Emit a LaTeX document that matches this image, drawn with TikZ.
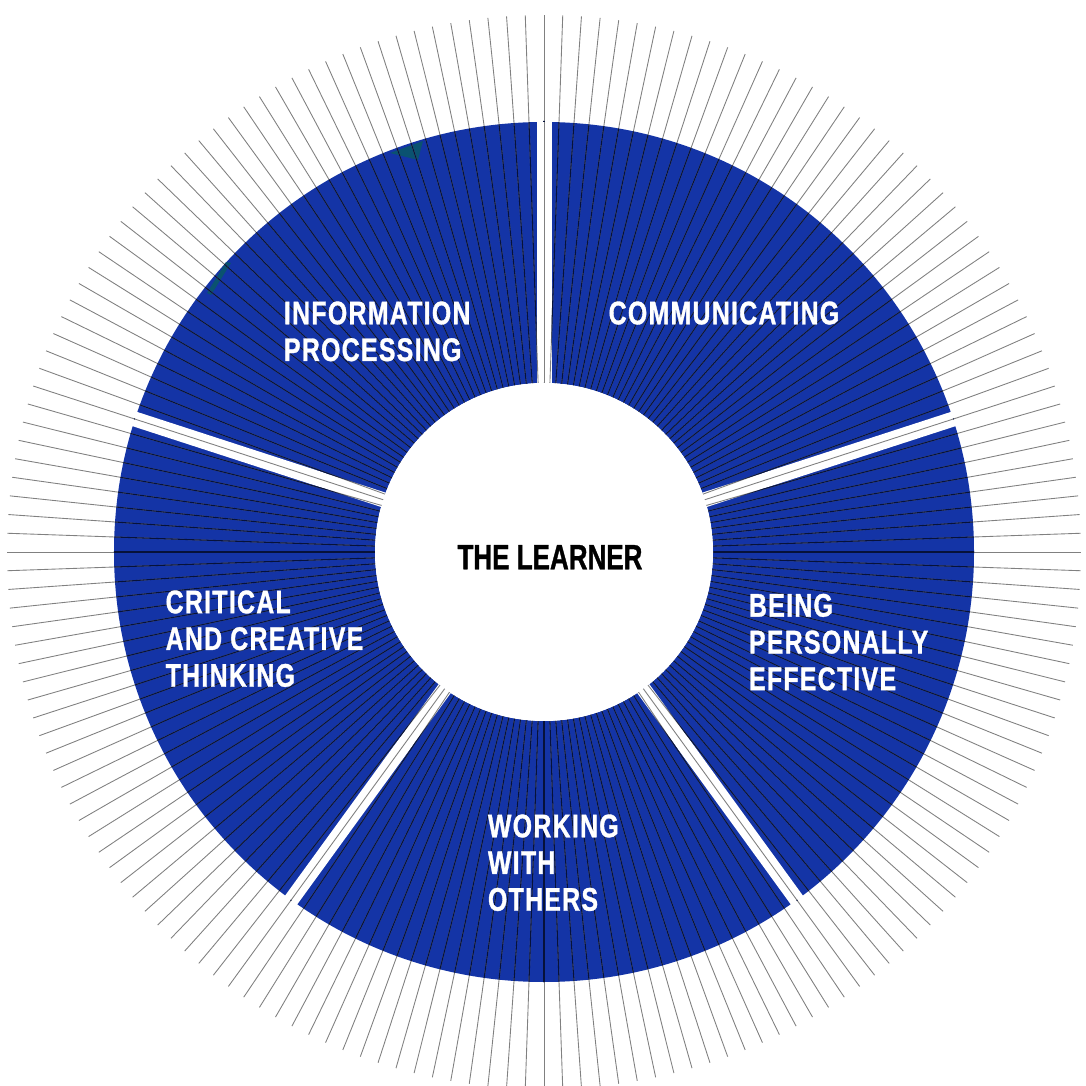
\documentclass[tikz,border=0pt]{standalone}
\usepackage{fontspec}
\setmainfont{Liberation Sans}
\newfontfamily\ringfont[UprightFont={* Bold}, FakeStretch=0.76, LetterSpace=4, FakeBold=1]{Liberation Sans}
\newfontfamily\hubfont[UprightFont={* Bold}, FakeStretch=0.74, FakeBold=1]{Liberation Sans}
\usetikzlibrary{positioning}
\definecolor{ringblue}{RGB}{20,52,166}
\definecolor{stain}{RGB}{10,82,112}
\tikzset{
  ray/.style={black!50, line width=0.25pt},
  darkray/.style={ringblue!35!black, line width=0.3pt},
  cut/.style={white, line width=0.15cm},
  skill/.style={white, align=left, anchor=base west, inner sep=0pt,
    font=\ringfont\fontsize{9.3}{10.45}\selectfont}
}
\begin{document}
\begin{tikzpicture}
  \useasboundingbox (-5.44,-5.34) rectangle (5.41,5.52);
	% Draw ring
  \fill[ringblue, even odd rule] (0,0) circle (4.30) (0,0) circle (1.69);
  \fill[stain] (-1.54,3.99) -- (-1.21,4.11) -- (-1.26,3.92) -- cycle;
  \fill[stain] (-3.18,2.90) -- (-3.13,2.89) -- (-3.33,2.57) -- (-3.37,2.59) -- cycle;
	% gaps and rays
  \foreach \a in {18,90,162,234,306}
    \draw[cut] (0,0) -- (\a:4.5);
  \foreach \a in {0,2,...,358}
    \draw[ray] (0,0) -- (\a:5.37);
  \begin{scope}[even odd rule]
    \clip (0,0) circle (4.30) (0,0) circle (1.69)
      \foreach \a in {18,90,162,234,306} {(\a:1.5) ++(\a-90:0.075) -- ++(\a:2.81) -- ++(\a+90:0.15) -- ++(\a+180:2.81) -- cycle};
    \foreach \a in {0,2,...,358}
      \draw[darkray] (0,0) -- (\a:4.4);
  \end{scope}
  \node[circle, fill=white, minimum size=3.38cm, inner sep=0pt] (hub) at (0,0) {};
  \node[anchor=base, inner sep=0pt, font=\hubfont\fontsize{10}{12}\selectfont] (learner) at (0.06,-0.173) {THE LEARNER};
	% labels, placed at the baseline of their last line
  \node[skill] (info) at (-2.607,1.910) {INFORMATION\\PROCESSING};
  \node[skill] (comm) at (0.64,2.277) {COMMUNICATING};
  \node[skill] (being) at (2.043,-1.381) {BEING\\PERSONALLY\\EFFECTIVE};
  \node[skill] (work) at (-0.567,-3.587) {WORKING\\WITH\\OTHERS};
  \node[skill] (crit) at (-3.79,-1.347) {CRITICAL\\AND CREATIVE\\THINKING};
\end{tikzpicture}
\end{document}
